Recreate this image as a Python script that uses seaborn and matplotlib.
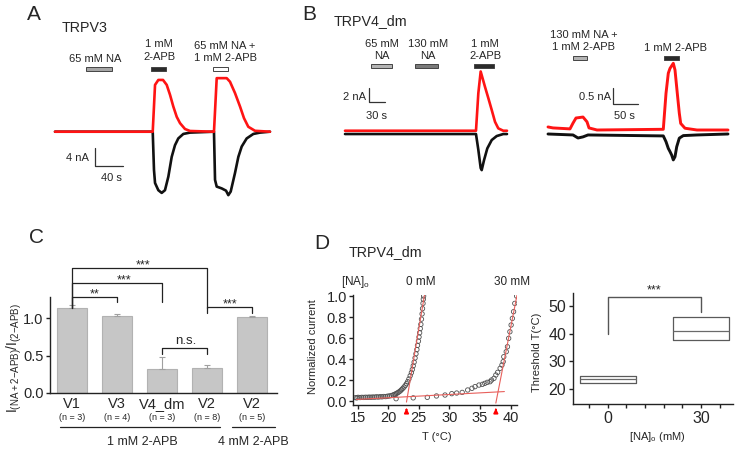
import matplotlib
matplotlib.use('Agg')
import matplotlib.pyplot as plt
from matplotlib.patches import Rectangle
import seaborn as sns

sns.set_style('ticks')
plt.rcParams['font.family'] = ['Liberation Sans', 'DejaVu Sans']
plt.rcParams['mathtext.fontset'] = 'custom'
plt.rcParams['mathtext.rm'] = 'Liberation Sans'
plt.rcParams['mathtext.it'] = 'Liberation Sans:italic'
plt.rcParams['mathtext.bf'] = 'Liberation Sans:bold'

# ---------------- data ----------------
# Panel A (TRPV3): time (s), current (nA)
A_red_t = [0, 139.6, 142.9, 147.6, 154.3, 159.6, 164.3, 169, 173.9, 178.6, 185.7, 192.9, 226.1, 227.1, 231, 245.3,
           250, 257.1, 264.3, 270, 276.1, 285.7, 307.1]
A_red_i = [0, 0, 10.4, 11.5, 11.5, 10.4, 8.2, 5.6, 3.3, 1.9, 0.6, 0.16, 0, 0, 11.9, 11.9,
           11.1, 8.6, 5.6, 3.0, 1.1, 0.2, 0]
A_blk_t = [0, 139.6, 141.4, 142.9, 147.6, 152.4, 157.1, 161.9, 166.7, 171.4, 176.1, 183.3, 192.9, 227.1, 228.6,
           231, 238.1, 244.3, 247.6, 251, 257.1, 261.9, 266.7, 273.8, 283.3, 292.9, 307.1]
A_blk_i = [0, 0, -8.5, -11.4, -13.0, -13.6, -13.0, -10.0, -5.6, -3.0, -1.5, -0.5, -0.2, 0, -10.7,
           -12.2, -12.6, -13.1, -14.1, -13.3, -9.2, -5.6, -3.3, -1.5, -0.5, -0.2, 0]
A_stim_on = [44.3, 137.1, 225.7]
A_stim_off = [81.4, 158.6, 247.1]
A_stim_col = ['#a6a6a6', '#2b2b2b', '#ffffff']

# Panel B left (TRPV4_dm)
BL_red_t = [0, 245.6, 250, 254.4, 262.5, 268.7, 275.1, 281.3, 287.4, 296.8, 303.75]
BL_red_i = [0.33, 0.33, 5.7, 8.8, 6.6, 5.0, 3.3, 1.6, 0.67, 0.33, 0.33]
BL_blk_t = [0, 245.6, 250, 254.4, 256.3, 260.6, 266.8, 275.1, 284.4, 296.8, 303.75]
BL_blk_i = [-0.14, -0.14, -2.4, -5.0, -5.3, -3.9, -2.2, -1.0, -0.43, -0.14, -0.14]
BL_stim_on = [48.75, 131.25, 241.9]
BL_stim_off = [88.1, 174.4, 279.4]
BL_stim_col = ['#b4b4b4', '#7a7a7a', '#2b2b2b']

# Panel B right
BR_red_t = [0, 10, 44, 50, 56, 70, 78, 82, 98, 230.6, 236, 240.6, 244, 250.6, 254, 258.6, 262.6, 265.4, 274, 298, 360]
BR_red_i = [0.22, 0.19, 0.16, 0.34, 0.5, 0.53, 0.38, 0.19, 0.125, 0.147, 1.27, 1.9, 2.05, 2.21, 2.0, 1.27, 0.65,
            0.33, 0.18, 0.125, 0.125]
BR_blk_t = [0, 50, 60, 70, 80, 230.6, 236, 240.6, 244, 247.4, 250.6, 254, 257.4, 262.6, 270.6, 298, 360]
BR_blk_i = [0, -0.03, -0.125, -0.09, -0.03, -0.06, -0.24, -0.45, -0.55, -0.66, -0.81, -0.71, -0.4, -0.13, -0.05,
            -0.03, 0]
BR_stim_on = [50, 232]
BR_stim_off = [78, 262]
BR_stim_col = ['#b4b4b4', '#2b2b2b']

# Panel C
C_cats = ['V1', 'V3', 'V4_dm', 'V2', 'V2 (4 mM)']
C_labels = ['V1', 'V3', 'V4_dm', 'V2', 'V2']
C_n = ['(n = 3)', '(n = 4)', '(n = 3)', '(n = 8)', '(n = 5)']
C_vals = [1.13, 1.03, 0.32, 0.33, 1.02]
C_sem = [0.04, 0.02, 0.16, 0.04, 0.01]
C_sig_a = [0, 0, 0, 2, 3]
C_sig_b = [1, 2, 3, 3, 4]
C_sig_h = [1.28, 1.47, 1.67, 0.60, 1.15]
C_sig_tip_a = [1.13, 1.13, 1.13, 0.52, 1.07]
C_sig_tip_b = [1.21, 1.21, 1.13, 0.52, 1.07]
C_sig_txt = ['**', '***', '***', 'n.s.', '***']
C_sig_tx = [0.5, 1.15, 1.58, 2.52, 3.5]
C_sig_ty = [1.31, 1.50, 1.70, 0.69, 1.18]

# Panel D left: temperature (°C), normalized current
D0_T = [14.7, 14.9, 15.1, 15.4, 15.7, 16.0, 16.3, 16.6, 16.9, 17.2, 17.5, 17.8, 18.1, 18.4, 18.7, 19.0, 19.3, 19.6,
        19.9, 20.2, 20.5, 20.8, 21.0, 21.2, 21.4, 21.6, 21.8, 22.0, 22.2, 22.4, 22.6, 22.8, 23.0, 23.2, 23.4, 23.6,
        23.8, 23.95, 24.1, 24.25, 24.4, 24.55, 24.7, 24.8, 24.95, 25.05, 25.15, 25.25, 25.35, 25.45, 25.55, 25.62,
        25.7, 25.75, 25.8]
D0_v = [0.032, 0.03, 0.035, 0.033, 0.035, 0.034, 0.036, 0.035, 0.037, 0.036, 0.038, 0.037, 0.04, 0.038, 0.041, 0.04,
        0.043, 0.042, 0.046, 0.048, 0.052, 0.057, 0.062, 0.067, 0.073, 0.08, 0.088, 0.097, 0.108, 0.12, 0.133, 0.148,
        0.165, 0.185, 0.21, 0.24, 0.27, 0.3, 0.335, 0.37, 0.41, 0.45, 0.49, 0.53, 0.57, 0.61, 0.65, 0.69, 0.73, 0.78,
        0.83, 0.88, 0.93, 0.97, 1.0]
D30_T = [21.3, 24.1, 26.4, 27.9, 29.3, 30.4, 31.2, 32.1, 33.0, 33.7, 34.2, 34.85, 35.4, 35.8, 36.2, 36.65, 36.9, 37.3,
         37.6, 37.9, 38.3, 38.6, 38.8, 38.9, 39.3, 39.5, 39.7, 39.9, 40.1, 40.3, 40.5, 40.7, 41.0]
D30_v = [0.022, 0.03, 0.035, 0.048, 0.057, 0.07, 0.076, 0.082, 0.105, 0.121, 0.137, 0.152, 0.159, 0.168, 0.178, 0.184,
         0.2, 0.216, 0.248, 0.273, 0.311, 0.343, 0.375, 0.422, 0.47, 0.517, 0.597, 0.66, 0.724, 0.787, 0.851, 0.93, 1.0]
D_fit0_T = [23.0, 26.0]
D_fit0_v = [-0.01, 1.03]
D_fit30_T = [37.6, 41.1]
D_fit30_v = [-0.02, 1.02]
D_base_T = [14.8, 39.0]
D_base_v = [0.015, 0.09]
D_thresh = [23.0, 37.6]

# Panel D right: threshold temperature boxes
D_box_pos = [0, 30]
D_box_q1 = [22.2, 37.8]
D_box_med = [23.5, 41.1]
D_box_q3 = [24.7, 46.0]

# ---------------- figure ----------------
W, H = 738, 450
fig = plt.figure(figsize=(W / 100, H / 100), dpi=100)


def add_ax(x0, y0, x1, y1):
    return fig.add_axes([x0 / W, 1 - y1 / H, (x1 - x0) / W, (y1 - y0) / H])


def ftext(x, y, s, size=8, ha='center', va='center', **kw):
    fig.text(x / W, 1 - y / H, s, fontsize=size, ha=ha, va=va, **kw)


RED = '#ff1414'


def trace_ax(box, xlim, ylim):
    ax = add_ax(*box)
    ax.set_xlim(xlim)
    ax.set_ylim(ylim)
    ax.axis('off')
    return ax


def draw_traces(ax, bt, bi, rt, ri, lw):
    sns.lineplot(x=bt, y=bi, ax=ax, color='#111111', lw=lw, sort=False, estimator=None)
    sns.lineplot(x=rt, y=ri, ax=ax, color=RED, lw=lw, sort=False, estimator=None)


def stims(ax, on, off, cols, ytop, ybot, box):
    y0, y1 = box[1], box[3]
    fb = (y1 - ybot) / (y1 - y0)
    ft = (y1 - ytop) / (y1 - y0)
    for a, b, c in zip(on, off, cols):
        ax.add_patch(Rectangle((a, fb), b - a, ft - fb, transform=ax.get_xaxis_transform(),
                               facecolor=c, edgecolor='#444444', lw=0.7, clip_on=False))


def scalebar(ax, t0, i0, dt, di):
    ax.plot([t0, t0, t0 + dt], [i0 + di, i0, i0], color='#333333', lw=0.9, clip_on=False)


# Panel A
boxA = (40, 30, 290, 210)
axA = trace_ax(boxA, (-21.43, 335.7), (-17.4, 22.6))
draw_traces(axA, A_blk_t, A_blk_i, A_red_t, A_red_i, 1.9)
stims(axA, A_stim_on, A_stim_off, A_stim_col, 67, 71, boxA)
scalebar(axA, 57.1, -7.62, 40, 4)

# Panel B left
boxBL = (335, 30, 515, 210)
axBL = trace_ax(boxBL, (-18.75, 318.75), (-11.0, 14.73))
draw_traces(axBL, BL_blk_t, BL_blk_i, BL_red_t, BL_red_i, 1.9)
stims(axBL, BL_stim_on, BL_stim_off, BL_stim_col, 64, 68, boxBL)
scalebar(axBL, 45, 4.43, 30, 2)

# Panel B right
boxBR = (540, 30, 735, 210)
axBR = trace_ax(boxBR, (-16, 374), (-2.375, 3.25))
draw_traces(axBR, BR_blk_t, BR_blk_i, BR_red_t, BR_red_i, 2.1)
stims(axBR, BR_stim_on, BR_stim_off, BR_stim_col, 56, 60, boxBR)
scalebar(axBR, 130, 0.9375, 50, 0.5)

# texts for A/B
ftext(34, 14, 'A', 15)
ftext(309, 14, 'B', 15)
ftext(85, 28, 'TRPV3', 10.3)
ftext(95, 59, '65 mM NA', 8)
ftext(159, 50.5, '1 mM\n2-APB', 8, linespacing=1.3)
ftext(225, 52, '65 mM NA +\n1 mM 2-APB', 8, linespacing=1.3)
ftext(77, 158, '4 nA', 8)
ftext(111, 178, '40 s', 8)
ftext(334, 21, 'TRPV4_dm', 10.3, ha='left')
ftext(382, 50, '65 mM\nNA', 8, linespacing=1.25)
ftext(428, 50, '130 mM\nNA', 8, linespacing=1.25)
ftext(485, 50, '1 mM\n2-APB', 8, linespacing=1.25)
ftext(366, 97, '2 nA', 8, ha='right')
ftext(377, 116, '30 s', 8)
ftext(584, 41, '130 mM NA +\n1 mM 2-APB', 8, linespacing=1.25)
ftext(675, 48, '1 mM 2-APB', 8)
ftext(611, 97, '0.5 nA', 8, ha='right')
ftext(624, 116, '50 s', 8)

# Panel C
axC = add_ax(50, 297, 277, 393)
sns.barplot(x=C_cats, y=C_vals, order=C_cats, color='#c6c6c6', saturation=1, edgecolor='#b2b2b2',
            linewidth=0.8, width=0.667, errorbar=None, ax=axC)
axC.errorbar(list(range(len(C_vals))), C_vals, yerr=[[0] * len(C_vals), C_sem], fmt='none',
             ecolor='#a0a0a0', elinewidth=0.8, capsize=2, capthick=0.8)
axC.set_xlim(-0.49, 4.55)
axC.set_ylim(0, 1.28)
sns.despine(ax=axC)
for s in ['left', 'bottom']:
    axC.spines[s].set_linewidth(1.0)
    axC.spines[s].set_color('#222222')
axC.set_yticks([0, 0.5, 1.0])
axC.set_yticklabels(['0.0', '0.5', '1.0'])
axC.tick_params(axis='y', length=3, width=1, pad=1.5, labelsize=10.5, color='#222222')
axC.set_xticks(range(len(C_labels)))
axC.set_xticklabels(C_labels)
axC.tick_params(axis='x', length=0, pad=3, labelsize=10.5)
axC.set_xlabel('')
axC.set_ylabel('')
trC = axC.get_xaxis_transform()
for i, n in enumerate(C_n):
    axC.text(i, -0.26, n, transform=trC, ha='center', va='center', fontsize=6.5)
for a, b, h, ta, tb, txt, tx, ty in zip(C_sig_a, C_sig_b, C_sig_h, C_sig_tip_a, C_sig_tip_b,
                                        C_sig_txt, C_sig_tx, C_sig_ty):
    axC.plot([a, a, b, b], [ta, h, h, tb], color='#222222', lw=0.9, clip_on=False)
    axC.text(tx, ty, txt, ha='center', va='center', fontsize=9 if txt != 'n.s.' else 9.5)
axC.plot([-0.27, 3.29], [-0.354, -0.354], transform=trC, color='#222222', lw=0.9, clip_on=False)
axC.plot([3.56, 4.51], [-0.354, -0.354], transform=trC, color='#222222', lw=0.9, clip_on=False)
ftext(142, 442, '1 mM 2-APB', 9)
ftext(253, 442, '4 mM 2-APB', 9)
ftext(36, 238, 'C', 15)
ftext(14, 358, r'I$_{\rm (NA+2\mathrm{-}APB)}$/I$_{\rm (2\mathrm{-}APB)}$', 10, rotation=90)

# Panel D left
axD = add_ax(353, 295, 517, 405)
sns.lineplot(x=D_base_T, y=D_base_v, ax=axD, color='#e8605c', lw=0.8, sort=False, estimator=None)
sns.lineplot(x=D_fit0_T, y=D_fit0_v, ax=axD, color='#e8605c', lw=0.8, sort=False, estimator=None)
sns.lineplot(x=D_fit30_T, y=D_fit30_v, ax=axD, color='#e8605c', lw=0.8, sort=False, estimator=None)
sns.scatterplot(x=D0_T, y=D0_v, ax=axD, marker='o', s=10, facecolor='none', edgecolor='#505050', linewidth=0.6)
sns.scatterplot(x=D30_T, y=D30_v, ax=axD, marker='o', s=10, facecolor='none', edgecolor='#505050', linewidth=0.6)
axD.set_xlim(14.26, 41.06)
axD.set_ylim(-0.038, 1.01)
sns.despine(ax=axD)
for s in ['left', 'bottom']:
    axD.spines[s].set_linewidth(1.0)
    axD.spines[s].set_color('#222222')
axD.set_xticks([15, 20, 25, 30, 35, 40])
axD.set_yticks([0, 0.2, 0.4, 0.6, 0.8, 1.0])
axD.set_yticklabels(['0.0', '0.2', '0.4', '0.6', '0.8', '1.0'])
axD.tick_params(length=3, width=1, pad=1.5, labelsize=10.5, color='#222222')
axD.set_xlabel('')
axD.set_ylabel('')
for T in D_thresh:
    axD.annotate('', xy=(T, -0.005), xycoords=('data', 'axes fraction'), xytext=(T, -0.07),
                 textcoords=('data', 'axes fraction'),
                 arrowprops=dict(arrowstyle='-|>', color='red', lw=1.3, mutation_scale=6),
                 annotation_clip=False)
ftext(322, 243, 'D', 15)
ftext(385, 252, 'TRPV4_dm', 10.3)
ftext(356, 282, r'[NA]$_{\rm o}$', 8.5)
ftext(421, 282, '0 mM', 8.5)
ftext(512, 282, '30 mM', 8.5)
ftext(313, 347, 'Normalized current', 8, rotation=90)
ftext(437, 437, 'T (°C)', 8)

# Panel D right
axE = add_ax(573, 293, 733, 404)
stats = []
for q1, med, q3 in zip(D_box_q1, D_box_med, D_box_q3):
    stats.append({'q1': q1, 'med': med, 'q3': q3, 'whislo': q1, 'whishi': q3, 'fliers': []})
axE.bxp(stats, positions=D_box_pos, widths=18, showcaps=False, showfliers=False, manage_ticks=False,
        boxprops=dict(color='#5a5a5a', lw=0.9), medianprops=dict(color='#6a6a6a', lw=0.9),
        whiskerprops=dict(lw=0))
axE.set_xlim(-11.1, 40.3)
axE.set_ylim(14.6, 54.8)
sns.despine(ax=axE)
for s in ['left', 'bottom']:
    axE.spines[s].set_linewidth(1.0)
    axE.spines[s].set_color('#222222')
axE.set_yticks([20, 30, 40, 50])
axE.set_xticks(D_box_pos)
axE.set_xticklabels(['0', '30'])
axE.set_xticks([-6, 6, 12, 18, 24, 36], minor=True)
axE.tick_params(length=3, width=1, pad=2, labelsize=11.5, color='#222222')
axE.tick_params(which='minor', length=3, width=1, color='#222222')
axE.plot([0, 0, 30, 30], [40, 53.3, 53.3, 48], color='#555555', lw=1.0, clip_on=False)
axE.text(15, 55.6, '***', ha='center', va='center', fontsize=9)
ftext(537, 352, 'Threshold T(°C)', 8, rotation=90)
ftext(657, 437, r'[NA]$_{\rm o}$ (mM)', 8)

fig.savefig('out.png', dpi=100)
